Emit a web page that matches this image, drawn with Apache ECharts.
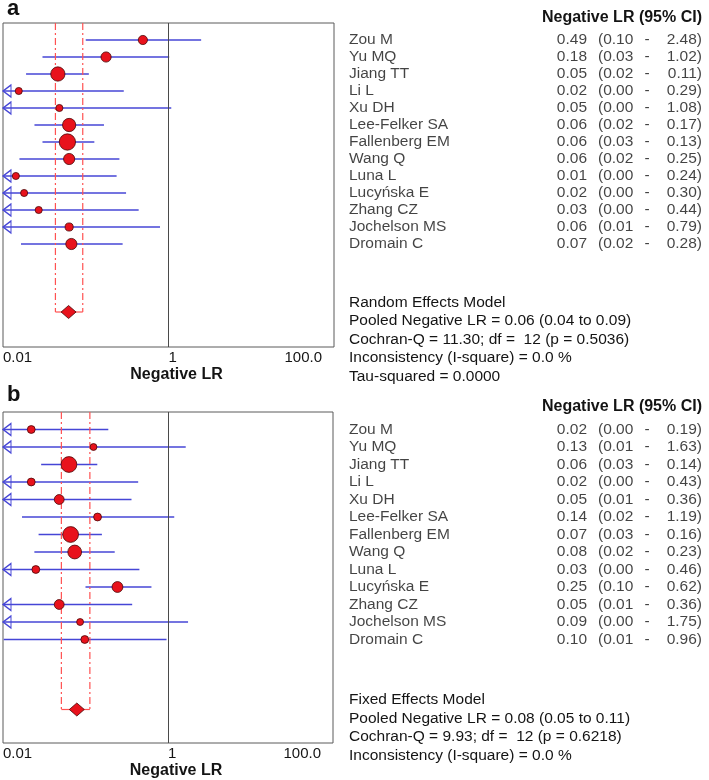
<!DOCTYPE html>
<html><head><meta charset="utf-8">
<script src="https://cdn.jsdelivr.net/npm/echarts@6/dist/echarts.min.js"></script>
<style>html,body{margin:0;padding:0;background:#fff}#c{width:709px;height:780px}</style>
</head><body><div id="c"></div>
<script>
// ---------------- data ----------------
const studies = ['Zou M','Yu MQ','Jiang TT','Li L','Xu DH','Lee-Felker SA','Fallenberg EM','Wang Q','Luna L','Lucyńska E','Zhang CZ','Jochelson MS','Dromain C'];

// Panel a (random effects)
const estA  = [0.49, 0.176, 0.046, 0.0155, 0.048, 0.063, 0.060, 0.063, 0.0143, 0.018, 0.027, 0.063, 0.067];
const lowA  = [0.10, 0.030, 0.019, 0.004, 0.004, 0.024, 0.030, 0.0158, 0.004, 0.004, 0.004, 0.006, 0.0165];
const highA = [2.48, 1.02, 0.109, 0.288, 1.08, 0.166, 0.127, 0.255, 0.236, 0.307, 0.436, 0.79, 0.279];
const weightA = [6.0, 7.4, 14.5, 3.6, 3.6, 12.5, 18.9, 8.9, 3.6, 3.6, 3.6, 4.7, 8.9];
const estTextA  = ['0.49','0.18','0.05','0.02','0.05','0.06','0.06','0.06','0.01','0.02','0.03','0.06','0.07'];
const lowTextA  = ['0.10','0.03','0.02','0.00','0.00','0.02','0.03','0.02','0.00','0.00','0.00','0.01','0.02'];
const highTextA = ['2.48','1.02','0.11','0.29','1.08','0.17','0.13','0.25','0.24','0.30','0.44','0.79','0.28'];
const pooledA = [0.062, 0.043, 0.092]; // estimate, lower, upper
const summaryA = ['Random Effects Model','Pooled Negative LR = 0.06 (0.04 to 0.09)','Cochran-Q = 11.30; df =  12 (p = 0.5036)','Inconsistency (I-square) = 0.0 %','Tau-squared = 0.0000'];

// Panel b (fixed effects)
const estB  = [0.022, 0.125, 0.063, 0.022, 0.048, 0.14, 0.066, 0.074, 0.025, 0.244, 0.048, 0.086, 0.098];
const lowB  = [0.004, 0.0095, 0.029, 0.004, 0.0085, 0.017, 0.027, 0.024, 0.004, 0.10, 0.0085, 0.004, 0.0102];
const highB = [0.189, 1.64, 0.139, 0.435, 0.361, 1.19, 0.158, 0.226, 0.45, 0.63, 0.368, 1.75, 0.96];
const weightB = [4.4, 3.4, 17.7, 4.4, 6.9, 4.4, 17.7, 13.5, 4.4, 8.4, 6.9, 3.4, 4.4];
const estTextB  = ['0.02','0.13','0.06','0.02','0.05','0.14','0.07','0.08','0.03','0.25','0.05','0.09','0.10'];
const lowTextB  = ['0.00','0.01','0.03','0.00','0.01','0.02','0.03','0.02','0.00','0.10','0.01','0.00','0.01'];
const highTextB = ['0.19','1.63','0.14','0.43','0.36','1.19','0.16','0.23','0.46','0.62','0.36','1.75','0.96'];
const pooledB = [0.0785, 0.051, 0.113];
const summaryB = ['Fixed Effects Model','Pooled Negative LR = 0.08 (0.05 to 0.11)','Cochran-Q = 9.93; df =  12 (p = 0.6218)','Inconsistency (I-square) = 0.0 %'];

const xTickValues = [0.01, 1, 100];
const xTickLabels = ['0.01', '1', '100.0'];
const tableHeader = 'Negative LR (95% CI)';
const axisTitle = 'Negative LR';
const panelLetters = ['a', 'b'];

// ---------------- layout / style ----------------
const XMIN = 0.01, XMAX = 100;
const FONT = '"Liberation Sans", Arial, Helvetica, sans-serif';
const TXT = '#141414';
const BLUE = '#4646d6';
const RED = '#e8121c';
const RED_EDGE = '#4a0808';
const DASH_RED = '#ff5252';
const SIZE_K = 3.75;
const POOLED_ROW = 17;
const BODY_FS = 15.5;

const panels = [
  { left: 3, top: 23, height: 324, unit: 17, est: estA, low: lowA, high: highA, w: weightA,
    estText: estTextA, lowText: lowTextA, highText: highTextA, pooled: pooledA, summary: summaryA,
    summaryY: 302.5, letterY: 9 },
  { left: 2, top: 412, height: 331, unit: 17.5, est: estB, low: lowB, high: highB, w: weightB,
    estText: estTextB, lowText: lowTextB, highText: highTextB, pooled: pooledB, summary: summaryB,
    summaryY: 700, letterY: 395 }
];
const PLOT_W = 331;
const TABLE_LEFT = 340, TABLE_W = 369;
const COL = { name: 9, est: 247, lo: 258, dash: 307, hi: 362 };

const grid = [], xAxis = [], yAxis = [], series = [], graphic = [];

panels.forEach((P, i) => {
  const g0 = grid.length;
  const ymax = P.height / P.unit;
  grid.push({ left: P.left, top: P.top, width: PLOT_W, height: P.height, show: true,
    borderColor: '#5a5a5a', borderWidth: 1, backgroundColor: 'transparent' });
  grid.push({ left: TABLE_LEFT, top: P.top, width: TABLE_W, height: P.height, show: false });

  xAxis.push({
    gridIndex: g0, type: 'log', logBase: 10, min: XMIN, max: XMAX,
    splitLine: { show: false }, axisLine: { show: false }, axisTick: { show: false },
    axisLabel: {
      show: true, interval: 0, margin: 3, color: TXT, fontFamily: FONT, fontSize: 15,
      align: 'left', alignMinLabel: 'left', alignMaxLabel: 'right', hideOverlap: false,
      formatter: (v) => {
        const e = Math.round(Math.log10(v));
        const k = xTickValues.findIndex(t => Math.round(Math.log10(t)) === e);
        if (k < 0) return '';
        return k === xTickValues.length - 1 ? '{m|' + xTickLabels[k] + '}' : xTickLabels[k];
      },
      rich: { m: { fontFamily: FONT, fontSize: 15, color: TXT, padding: [0, 12, 0, 0] } }
    },
    name: axisTitle, nameLocation: 'middle', nameGap: 20,
    nameTextStyle: { fontFamily: FONT, fontSize: 16, fontWeight: 'bold', color: TXT, padding: [0, 0, 0, 16] }
  });
  xAxis.push({ gridIndex: g0 + 1, type: 'value', min: 0, max: TABLE_W, show: false });
  yAxis.push({ gridIndex: g0, type: 'value', inverse: true, min: 0, max: ymax, show: false });
  yAxis.push({ gridIndex: g0 + 1, type: 'value', inverse: true, min: 0, max: ymax, show: false });

  const ax = { xAxisIndex: g0, yAxisIndex: g0 };
  const tx = { xAxisIndex: g0 + 1, yAxisIndex: g0 + 1 };

  // confidence interval lines
  series.push(Object.assign({
    type: 'custom', z: 2, silent: true,
    data: P.low.map((lo, j) => [lo, P.high[j], j + 1]),
    encode: { x: [0, 1], y: 2 },
    renderItem: (params, api) => {
      const lo = Math.max(api.value(0), XMIN);
      const a = api.coord([lo, api.value(2)]);
      const b = api.coord([api.value(1), api.value(2)]);
      return { type: 'line', shape: { x1: a[0], y1: a[1], x2: b[0], y2: b[1] },
        style: { stroke: BLUE, lineWidth: 1.4 } };
    },
    markLine: { silent: true, symbol: 'none', label: { show: false }, animation: false,
      lineStyle: { color: '#4a4a4a', type: 'solid', width: 1, opacity: 1 }, data: [{ xAxis: 1 }] }
  }, ax));

  // arrows for intervals truncated at the axis minimum
  series.push(Object.assign({
    type: 'scatter', z: 3, silent: true,
    data: P.low.map((lo, j) => lo < XMIN ? [XMIN, j + 1] : null).filter(d => d),
    symbol: 'path://M10,0 L0,6 L10,12 Z', symbolSize: [8, 12], symbolOffset: [4, 0],
    itemStyle: { color: 'rgba(255,255,255,0)', borderColor: BLUE, borderWidth: 1.2, opacity: 1 }
  }, ax));

  // point estimates
  series.push(Object.assign({
    type: 'scatter', z: 4, silent: true,
    data: P.est.map((v, j) => [v, j + 1, P.w[j]]),
    symbolSize: (val) => SIZE_K * Math.sqrt(val[2]),
    itemStyle: { color: RED, borderColor: RED_EDGE, borderWidth: 0.8, opacity: 1 }
  }, ax));

  // pooled estimate bracket
  series.push(Object.assign({
    type: 'custom', z: 3, silent: true,
    data: [[P.pooled[1], P.pooled[2], POOLED_ROW]],
    encode: { x: [0, 1], y: 2 },
    renderItem: (params, api) => {
      const r = api.value(2);
      const lt = api.coord([api.value(0), 0]), lb = api.coord([api.value(0), r]);
      const rt = api.coord([api.value(1), 0]), rb = api.coord([api.value(1), r]);
      const dash = { stroke: DASH_RED, lineWidth: 1.2, lineDash: [7, 3, 2, 3] };
      return { type: 'group', children: [
        { type: 'line', shape: { x1: lt[0], y1: lt[1], x2: lb[0], y2: lb[1] }, style: dash },
        { type: 'line', shape: { x1: rt[0], y1: rt[1], x2: rb[0], y2: rb[1] }, style: dash },
        { type: 'line', shape: { x1: lb[0], y1: lb[1], x2: rb[0], y2: rb[1] }, style: { stroke: DASH_RED, lineWidth: 1.2 } }
      ] };
    }
  }, ax));

  // pooled diamond
  series.push(Object.assign({
    type: 'scatter', z: 5, silent: true,
    data: [[P.pooled[0], POOLED_ROW]],
    symbol: 'diamond', symbolSize: [15, 13],
    itemStyle: { color: RED, borderColor: RED_EDGE, borderWidth: 0.8, opacity: 1 }
  }, ax));

  // table columns
  const col = (x, texts, pos) => Object.assign({
    type: 'scatter', silent: true, symbolSize: 0,
    itemStyle: { color: 'rgba(0,0,0,0)' },
    data: texts.map((t, j) => ({ name: t, value: [x, j + 1] })),
    label: { show: true, position: pos, distance: 0, formatter: '{b}',
      fontFamily: FONT, fontSize: BODY_FS, color: TXT }
  }, tx);
  series.push(col(COL.name, studies, 'right'));
  series.push(col(COL.est, P.estText, 'left'));
  series.push(col(COL.lo, P.lowText.map(t => '(' + t), 'right'));
  series.push(col(COL.dash, P.lowText.map(() => '-'), 'inside'));
  series.push(col(COL.hi, P.highText.map(t => t + ')'), 'left'));

  // header, panel letter, summary
  graphic.push({ type: 'text', x: 702, y: P.top - 5.6, silent: true,
    style: { text: tableHeader, fill: TXT, font: 'bold 16px ' + FONT, align: 'right', verticalAlign: 'middle' } });
  graphic.push({ type: 'text', x: 7, y: P.letterY, silent: true,
    style: { text: panelLetters[i], fill: '#111', font: 'bold 22px ' + FONT, align: 'left', verticalAlign: 'middle' } });
  P.summary.forEach((s, k) => {
    graphic.push({ type: 'text', x: 349, y: P.summaryY + k * 18.5, silent: true,
      style: { text: s, fill: TXT, font: BODY_FS + 'px ' + FONT, align: 'left', verticalAlign: 'middle' } });
  });
});

const chart = echarts.init(document.getElementById('c'), null, { renderer: 'canvas' });
chart.setOption({
  animation: false,
  backgroundColor: '#ffffff',
  grid, xAxis, yAxis, series, graphic
});
</script>
</body></html>
